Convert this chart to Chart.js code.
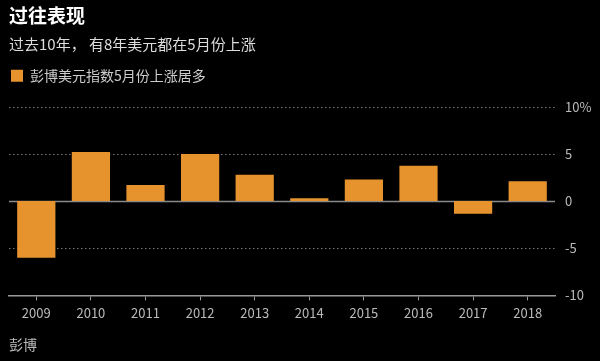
<!DOCTYPE html>
<html>
<head>
<meta charset="utf-8">
<script src="https://cdn.jsdelivr.net/npm/chart.js@4"></script>
<style>
  html, body { margin: 0; padding: 0; background: #000; }
  #wrap { position: relative; width: 600px; height: 361px; }
  #footer {
    position: absolute; left: 9px; top: 334px;
    color: #bbb; font: 14px "Noto Sans CJK SC", sans-serif;
  }
</style>
</head>
<body>
<div id="wrap">
  <canvas id="chart" width="600" height="361"></canvas>
  <div id="footer">彭博</div>
</div>
<script>
const years = ['2009', '2010', '2011', '2012', '2013', '2014', '2015', '2016', '2017', '2018'];
const mayChange = [-6.0, 5.2, 1.7, 5.0, 2.8, 0.3, 2.3, 3.75, -1.35, 2.1];
const yTicks = [-10, -5, 0, 5, 10];

const FONT = '"Noto Sans CJK SC", sans-serif';
const BAR = '#e6932d';

// dotted grid, solid zero line
const gridPlugin = {
  id: 'gridLines',
  beforeDatasetsDraw(chart) {
    const { ctx, chartArea, scales } = chart;
    ctx.save();
    yTicks.forEach(v => {
      if (v === -10) return;
      const y = Math.round(scales.y.getPixelForValue(v)) + 0.5;
      ctx.beginPath();
      if (v === 0) {
        ctx.setLineDash([]);
        ctx.strokeStyle = '#8a8a8a';
        ctx.lineWidth = 1.5;
      } else {
        ctx.setLineDash([1.5, 2.5]);
        ctx.strokeStyle = '#777';
        ctx.lineWidth = 1;
      }
      ctx.moveTo(chartArea.left, y);
      ctx.lineTo(chartArea.right, y);
      ctx.stroke();
    });
    ctx.restore();
  }
};

// extra space under the legend
const legendGap = {
  id: 'legendGap',
  beforeInit(chart) {
    const fit = chart.legend.fit;
    chart.legend.fit = function () {
      fit.call(this);
      this.height += 14;
    };
  }
};

new Chart(document.getElementById('chart'), {
  type: 'bar',
  data: {
    labels: years,
    datasets: [{
      label: '彭博美元指数5月份上涨居多',
      data: mayChange,
      backgroundColor: BAR,
      borderWidth: 0,
      barPercentage: 0.7,
      categoryPercentage: 1
    }]
  },
  options: {
    responsive: false,
    animation: false,
    layout: { padding: { left: 9, right: 8, top: 4, bottom: 35 } },
    plugins: {
      title: {
        display: true,
        text: '过往表现',
        align: 'start',
        color: '#fff',
        font: { family: FONT, size: 19, weight: 'bold' },
        padding: { top: 0, bottom: 8 }
      },
      subtitle: {
        display: true,
        text: '过去10年， 有8年美元都在5月份上涨',
        align: 'start',
        color: '#ddd',
        font: { family: FONT, size: 15 },
        padding: { bottom: 14 }
      },
      legend: {
        display: true,
        align: 'start',
        labels: {
          color: '#ccc',
          font: { family: FONT, size: 14 },
          boxWidth: 12,
          boxHeight: 12,
          padding: 2
        }
      },
      tooltip: { enabled: false }
    },
    scales: {
      x: {
        grid: {
          display: true,
          drawOnChartArea: false,
          drawTicks: true,
          offset: false,
          tickLength: 5,
          tickColor: '#999'
        },
        border: { display: true, color: '#999', width: 1.5 },
        ticks: {
          color: '#bbb',
          font: { family: FONT, size: 13 },
          padding: 5,
          maxRotation: 0
        }
      },
      y: {
        position: 'right',
        min: -10,
        max: 10,
        afterBuildTicks(scale) {
          scale.ticks = yTicks.map(v => ({ value: v }));
        },
        afterFit(scale) {
          scale.width = 37;
        },
        grid: { display: false, drawTicks: false, tickLength: 0 },
        border: { display: false },
        ticks: {
          color: '#bbb',
          font: { family: FONT, size: 13 },
          padding: 10,
          callback: v => (v === 10 ? '10%' : String(v))
        }
      }
    }
  },
  plugins: [gridPlugin, legendGap]
});
</script>
</body>
</html>
